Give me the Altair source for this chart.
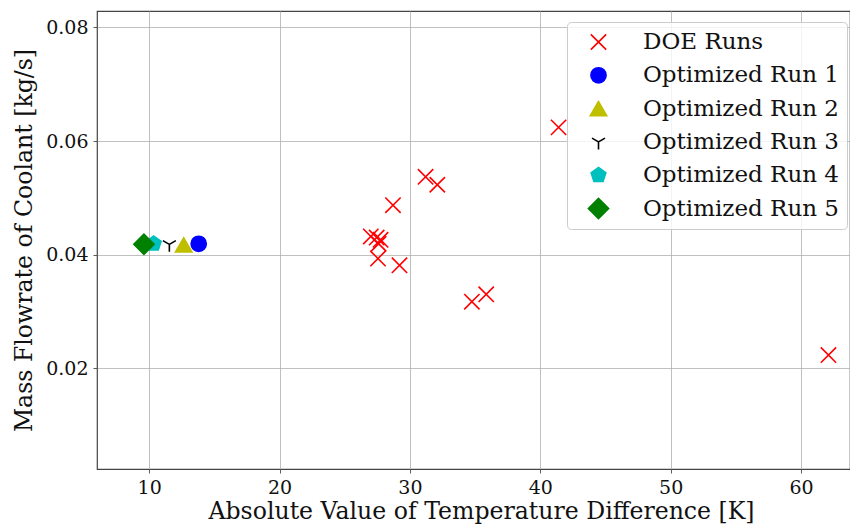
import altair as alt
import pandas as pd

# DOE sample runs: |dT| [K] vs coolant mass flowrate [kg/s]
doe_dt = [41.4, 31.2, 32.1, 28.7, 27.0, 27.45, 27.75, 27.6, 27.55, 29.2, 34.75, 35.85, 62.1]
doe_mdot = [0.0624, 0.0537, 0.0523, 0.0487, 0.0432, 0.0430, 0.0426, 0.0419, 0.0393, 0.0381, 0.0317, 0.0330, 0.0223]

# Optimized runs
opt_names = ["Optimized Run 1", "Optimized Run 2", "Optimized Run 3", "Optimized Run 4", "Optimized Run 5"]
opt_dt = [13.8, 12.65, 11.55, 10.35, 9.6]
opt_mdot = [0.0419, 0.0417, 0.0418, 0.0419, 0.0418]

series = ["DOE Runs"] + opt_names
colors = ["#ff0000", "#0000ff", "#bfbf00", "#000000", "#00bfbf", "#008000"]
shapes = [
    "M-1,-1L1,1M-1,1L1,-1",                       # x
    "circle",
    "triangle-up",
    "M0,0L0,1M0,0L-0.866,-0.5M0,0L0.866,-0.5",     # tri_down
    "M0,-1L0.951,-0.309L0.588,0.809L-0.588,0.809L-0.951,-0.309Z",  # pentagon
    "M-1,0L0,-1L1,0L0,1Z",                         # diamond
]
sizes = [235, 230, 270, 225, 240, 410]

rows = [{"dt": x, "mdot": y, "series": "DOE Runs"} for x, y in zip(doe_dt, doe_mdot)]
rows += [{"dt": x, "mdot": y, "series": n} for n, x, y in zip(opt_names, opt_dt, opt_mdot)]
df = pd.DataFrame(rows)

serif = "DejaVu Serif"

chart = (
    alt.Chart(df)
    .mark_point(filled=True, strokeWidth=1.6, opacity=1)
    .encode(
        x=alt.X(
            "dt:Q",
            scale=alt.Scale(domain=[6, 63.75], nice=False, zero=False),
            axis=alt.Axis(
                title="Absolute Value of Temperature Difference [K]",
                values=[10, 20, 30, 40, 50, 60],
                format="d",
                titleX=384,
                titleY=42,
                titleBaseline="middle",
            ),
        ),
        y=alt.Y(
            "mdot:Q",
            scale=alt.Scale(domain=[0.00223, 0.0829], nice=False, zero=False),
            axis=alt.Axis(
                title="Mass Flowrate of Coolant [kg/s]",
                values=[0.02, 0.04, 0.06, 0.08],
                format=".2f",
                titleX=-73,
                titleBaseline="middle",
            ),
        ),
        color=alt.Color(
            "series:N",
            scale=alt.Scale(domain=series, range=colors),
            legend=alt.Legend(title=None),
        ),
        stroke=alt.Stroke(
            "series:N",
            scale=alt.Scale(domain=series, range=colors),
            legend=alt.Legend(title=None),
        ),
        shape=alt.Shape(
            "series:N",
            scale=alt.Scale(domain=series, range=shapes),
            legend=alt.Legend(title=None),
        ),
        size=alt.Size(
            "series:N",
            scale=alt.Scale(type="ordinal", domain=series, range=sizes),
            legend=alt.Legend(title=None),
        ),
    )
    .properties(
        width=753,
        height=458,
        autosize=alt.AutoSizeParams(type="none"),
        padding={"left": 97, "top": 11, "right": 0, "bottom": 55},
    )
    .configure_view(stroke="#444444", strokeWidth=1.2)
    .configure_axis(
        grid=True,
        gridColor="#b0b0b0",
        gridWidth=0.8,
        domain=False,
        tickColor="#333333",
        tickSize=4,
        tickWidth=0.8,
        labelFont=serif,
        labelFontSize=19,
        labelColor="#111111",
        labelPadding=5,
        titleFont=serif,
        titleFontSize=23.6,
        titleFontWeight="normal",
        titleColor="#111111",
    )
    .configure_legend(
        orient="none",
        legendX=470,
        legendY=11,
        padding=8,
        symbolOffset=12,
        labelOffset=33,
        labelFont=serif,
        labelFontSize=23,
        labelColor="#111111",
        labelLimit=0,
        clipHeight=24,
        rowPadding=9.3,
        strokeColor="#cccccc",
        fillColor="rgba(255,255,255,0.8)",
        cornerRadius=4,
        symbolStrokeWidth=1.6,
    )
)

chart.save("out.html", embed_options={"renderer": "svg", "actions": False})
